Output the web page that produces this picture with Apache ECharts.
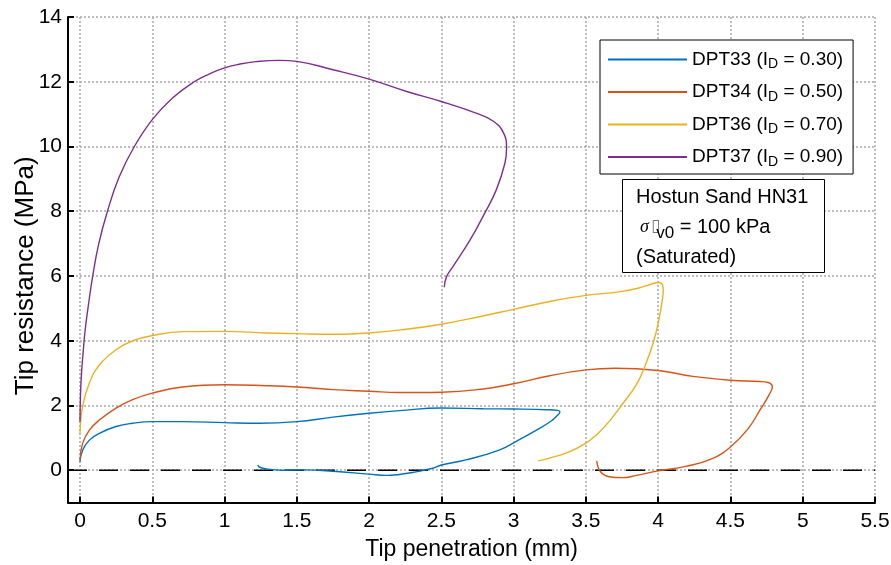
<!DOCTYPE html>
<html>
<head>
<meta charset="utf-8">
<script src="https://cdn.jsdelivr.net/npm/echarts@6/dist/echarts.min.js"></script>
<style>html,body{margin:0;padding:0;background:#fff}#c{width:891px;height:565px}</style>
</head>
<body>
<div id="c"></div>
<script>
// ---- data ----
const seriesNames = ['DPT33', 'DPT34', 'DPT36', 'DPT37'];
const idValues = ['0.30', '0.50', '0.70', '0.90'];
const colors = ['#0072BD', '#D95319', '#EDB120', '#7E2F8E'];

const xTicks = [0, 0.5, 1, 1.5, 2, 2.5, 3, 3.5, 4, 4.5, 5, 5.5];
const yTicks = [0, 2, 4, 6, 8, 10, 12, 14];

const dpt33X = [0, 0.018, 0.065, 0.134, 0.249, 0.364, 0.5, 0.71, 1.0, 1.24, 1.5, 1.75, 2.0, 2.21, 2.5, 2.79, 3.0, 3.23, 3.305, 3.32, 3.30, 3.26, 3.17, 3.03, 2.90, 2.67, 2.5, 2.44, 2.3, 2.21, 2.12, 2.0, 1.75, 1.56, 1.4, 1.29, 1.24, 1.23];
const dpt33Y = [0.26, 0.62, 0.93, 1.14, 1.35, 1.45, 1.50, 1.50, 1.47, 1.45, 1.50, 1.64, 1.76, 1.84, 1.92, 1.90, 1.89, 1.87, 1.85, 1.80, 1.68, 1.52, 1.27, 0.92, 0.62, 0.32, 0.16, 0.06, -0.07, -0.13, -0.16, -0.12, -0.03, 0.01, 0.0, 0.04, 0.10, 0.16];

const dpt34X = [0, 0.018, 0.065, 0.134, 0.249, 0.364, 0.5, 0.71, 1.0, 1.29, 1.5, 1.75, 2.0, 2.21, 2.5, 2.79, 3.0, 3.25, 3.5, 3.7, 4.0, 4.24, 4.5, 4.70, 4.76, 4.79, 4.77, 4.71, 4.62, 4.5, 4.37, 4.19, 4.0, 3.85, 3.75, 3.66, 3.6, 3.575];
const dpt34Y = [0.31, 0.83, 1.24, 1.55, 1.92, 2.18, 2.38, 2.57, 2.64, 2.61, 2.57, 2.49, 2.44, 2.40, 2.41, 2.51, 2.67, 2.92, 3.10, 3.15, 3.08, 2.90, 2.78, 2.74, 2.71, 2.58, 2.35, 1.90, 1.27, 0.72, 0.35, 0.12, -0.02, -0.16, -0.23, -0.20, -0.04, 0.29];

const dpt36X = [0, 0.018, 0.065, 0.134, 0.249, 0.364, 0.5, 0.71, 1.0, 1.29, 1.5, 1.76, 2.0, 2.23, 2.5, 2.77, 3.0, 3.26, 3.5, 3.73, 3.86, 3.96, 4.005, 4.03, 4.035, 4.03, 4.005, 3.97, 3.92, 3.85, 3.745, 3.66, 3.58, 3.5, 3.38, 3.26, 3.17];
const dpt36Y = [1.14, 1.97, 2.70, 3.25, 3.72, 4.0, 4.16, 4.28, 4.29, 4.24, 4.22, 4.20, 4.24, 4.34, 4.51, 4.75, 4.97, 5.22, 5.40, 5.51, 5.62, 5.76, 5.80, 5.72, 5.55, 5.30, 4.65, 4.0, 3.35, 2.65, 2.0, 1.50, 1.12, 0.84, 0.56, 0.39, 0.29];

const dpt37X = [0, 0.004, 0.012, 0.022, 0.035, 0.055, 0.088, 0.13, 0.19, 0.27, 0.376, 0.5, 0.64, 0.79, 0.9, 1.0, 1.1, 1.217, 1.38, 1.5, 1.75, 2.0, 2.26, 2.5, 2.74, 2.86, 2.93, 2.951, 2.94, 2.88, 2.80, 2.70, 2.58, 2.536, 2.52];
const dpt37Y = [1.5, 2.4, 3.1, 3.65, 4.3, 5.0, 6.0, 7.0, 8.0, 9.05, 10.0, 10.83, 11.5, 12.0, 12.25, 12.43, 12.54, 12.62, 12.66, 12.63, 12.37, 12.08, 11.70, 11.39, 11.03, 10.78, 10.42, 9.95, 9.49, 8.66, 7.94, 7.12, 6.29, 5.98, 5.65];

const zeroLineX = [-0.083, 5.5];
const zeroLineY = [0, 0];

// ---- build ----
const zip = (xs, ys) => xs.map((x, i) => [x, ys[i]]);
const allX = [dpt33X, dpt34X, dpt36X, dpt37X];
const allY = [dpt33Y, dpt34Y, dpt36Y, dpt37Y];
const FONT = 'Liberation Sans, Arial, Helvetica, sans-serif';

const gridLine = { show: true, lineStyle: { color: '#a8a8a8', width: 1.5, type: [2, 2] } };

const series = [{
  name: 'zero', type: 'line', data: zip(zeroLineX, zeroLineY), symbol: 'none', silent: true,
  lineStyle: { color: '#000', width: 1.5, type: [19, 12] }, z: 1
}].concat(seriesNames.map((n, i) => ({
  name: n, type: 'line', data: zip(allX[i], allY[i]), symbol: 'none', smooth: 0.45,
  lineStyle: { color: colors[i], width: 1.4 }, itemStyle: { color: colors[i] }, z: 3
})));

const chart = echarts.init(document.getElementById('c'), null, { renderer: 'canvas' });
chart.setOption({
  animation: false,
  backgroundColor: '#fff',
  textStyle: { fontFamily: FONT },
  grid: { left: 68, right: 16, top: 17, bottom: 62.4, containLabel: false, outerBoundsMode: 'none' },
  xAxis: {
    type: 'value', min: -0.083, max: 5.5,
    name: 'Tip penetration (mm)', nameLocation: 'middle', nameGap: 36,
    nameTextStyle: { fontFamily: FONT, fontSize: 23, color: '#000' },
    axisLine: { show: true, onZero: false, lineStyle: { color: '#000', width: 2 } },
    axisTick: { show: true, inside: true, length: 6, customValues: xTicks, lineStyle: { color: '#000', width: 2 } },
    axisLabel: { customValues: xTicks, fontFamily: FONT, fontSize: 21, color: '#000', margin: 8 },
    splitLine: Object.assign({ customValues: xTicks }, gridLine)
  },
  yAxis: {
    type: 'value', min: -1, max: 14,
    name: 'Tip resistance (MPa)', nameLocation: 'middle', nameGap: 29, nameRotate: 90, nameMoveOverlap: false,
    nameTextStyle: { fontFamily: FONT, fontSize: 26, color: '#000', padding: [0, 32, 0, 0] },
    axisLine: { show: true, onZero: false, lineStyle: { color: '#000', width: 2 } },
    axisTick: { show: true, inside: true, length: 6, customValues: yTicks, lineStyle: { color: '#000', width: 2 } },
    axisLabel: { customValues: yTicks, fontFamily: FONT, fontSize: 21, color: '#000', margin: 6 },
    splitLine: Object.assign({ customValues: yTicks }, gridLine)
  },
  legend: {
    data: seriesNames, orient: 'vertical', left: 600, top: 40,
    padding: [10, 10, 5, 8], itemGap: 11, itemWidth: 79, itemHeight: 2, icon: 'rect',
    backgroundColor: '#fff', borderColor: '#000', borderWidth: 1, borderRadius: 0,
    formatter: name => {
      const i = seriesNames.indexOf(name);
      return '{n|' + name + ' (I}{s|D}{n| = ' + idValues[i] + ')}';
    },
    textStyle: {
      fontFamily: FONT, color: '#000',
      rich: {
        n: { fontFamily: FONT, fontSize: 19, color: '#000', lineHeight: 24, verticalAlign: 'middle' },
        s: { fontFamily: FONT, fontSize: 14, color: '#000', padding: [10, 0, 0, 0], verticalAlign: 'middle' }
      }
    }
  },
  title: {
    left: 622, top: 174,
    text: '{n|Hostun Sand HN31}\n{sig|σ}{box|▯}{sub|v0}{n| = 100 kPa}\n{n|(Saturated)}',
    padding: [8, 16, 6, 14],
    backgroundColor: '#fff', borderColor: '#000', borderWidth: 1,
    textStyle: {
      fontFamily: FONT, fontWeight: 'normal', color: '#000',
      rich: {
        n: { fontFamily: FONT, fontSize: 20, color: '#000', lineHeight: 30 },
        sig: { fontFamily: 'Liberation Serif, DejaVu Serif, serif', fontStyle: 'italic', fontSize: 18, color: '#000', lineHeight: 30, padding: [0, 2, 0, 4] },
        box: { fontFamily: 'DejaVu Sans, sans-serif', fontSize: 17, color: '#777', lineHeight: 30 },
        sub: { fontFamily: FONT, fontSize: 17, color: '#000', padding: [12, 0, 0, -4], lineHeight: 30 }
      }
    }
  },
  series: series
});
</script>
</body>
</html>
